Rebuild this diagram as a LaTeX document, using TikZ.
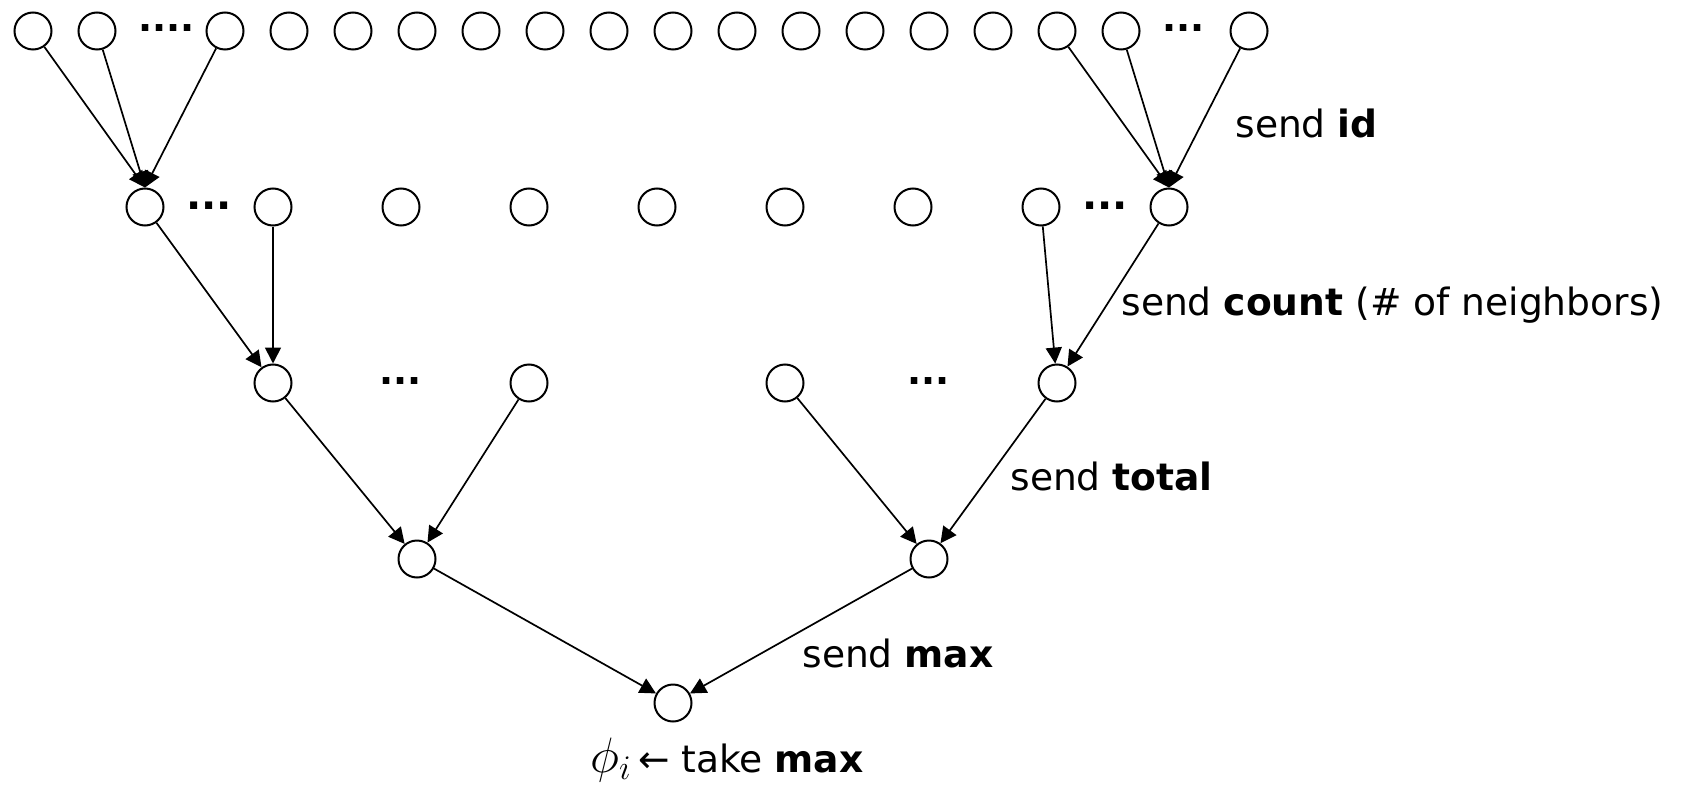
\documentclass[tikz,border=0pt]{standalone}
\usepackage{fontspec}
\setmainfont{DejaVu Sans}
\usetikzlibrary{arrows.meta}
\begin{document}
\begin{tikzpicture}[x=0.5pt,y=-0.5pt,
  nd/.style={circle,draw,line width=1pt,minimum size=18.5pt,inner sep=0pt},
  arr/.style={-{Triangle[length=8pt,width=8pt]},line width=0.85pt},
  lbl/.style={anchor=base west,inner sep=0pt,font=\fontsize{18.8}{22}\selectfont},
  dotrow/.style={anchor=base west,inner sep=0pt,font=\fontsize{18.5}{22}\selectfont\bfseries}]
\useasboundingbox (0,0) rectangle (1684,786);
% top row
\foreach \k in {0,1,3,4,...,17,19} \node[nd] (t\k) at ({33+64*\k},31) {};
% second row
\foreach \j in {0,...,8} \node[nd] (m\j) at ({145+128*\j},207) {};
% third row
\node[nd] (a0) at (273,383) {};
\node[nd] (a1) at (529,383) {};
\node[nd] (a2) at (785,383) {};
\node[nd] (a3) at (1057,383) {};
% fourth row
\node[nd] (b0) at (417,559) {};
\node[nd] (b1) at (929,559) {};
% root
\node[nd] (c) at (673,703) {};
% ellipses
\node[dotrow] (d1) at (138,32) {....};
\node[dotrow] (d2) at (1162,32) {...};
\node[dotrow,font=\fontsize{20}{24}\selectfont\bfseries] (d3) at (186,210) {...};
\node[dotrow,font=\fontsize{20}{24}\selectfont\bfseries] (d4) at (1082,210) {...};
\node[dotrow] (d5) at (379,384) {...};
\node[dotrow] (d6) at (907,384) {...};
% edges
\foreach \k in {0,1,3} \draw[arr] (t\k) -- (m0.north);
\foreach \k in {16,17,19} \draw[arr] (t\k) -- (m8.north);
\draw[arr] (m0) -- (a0);
\draw[arr] (m1) -- (a0);
\draw[arr] (m7) -- (a3);
\draw[arr] (m8) -- (a3);
\draw[arr] (a0) -- (b0);
\draw[arr] (a1) -- (b0);
\draw[arr] (a2) -- (b1);
\draw[arr] (a3) -- (b1);
\draw[arr] (b0) -- (c);
\draw[arr] (b1) -- (c);
% labels
\node[lbl] (l1) at (1235,138) {send \textbf{id}};
\node[lbl] (l2) at (1121,315) {send \textbf{count} (\# of neighbors)};
\node[lbl] (l3) at (1010,490) {send \textbf{total}};
\node[lbl] (l4) at (802,667) {send \textbf{max}};
\node[lbl] (l5) at (590,772) {{\fontsize{25}{28}\selectfont$\phi_i$}\,← take \textbf{max}};
\end{tikzpicture}
\end{document}
